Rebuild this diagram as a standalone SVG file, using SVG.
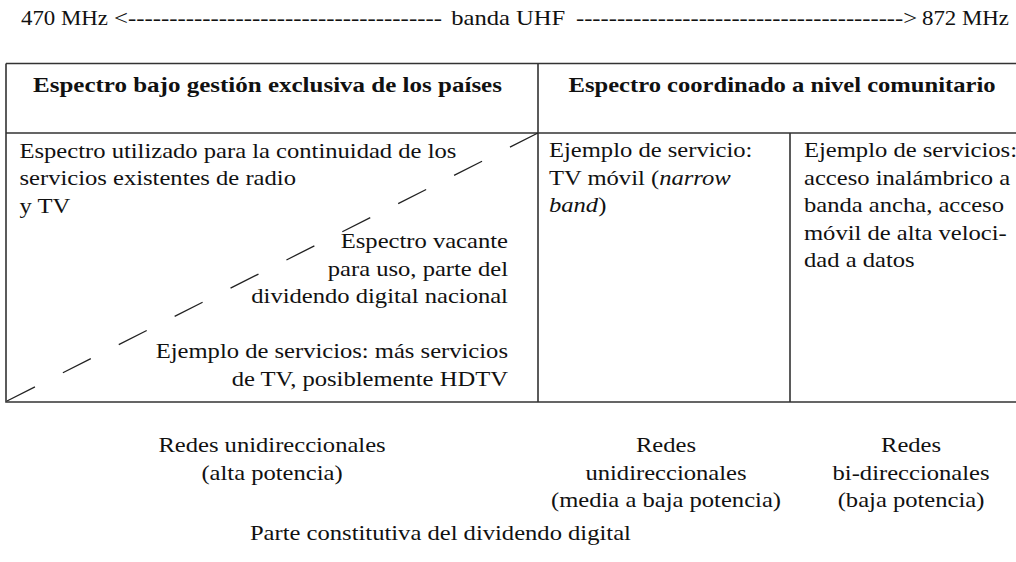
<svg xmlns="http://www.w3.org/2000/svg" width="1016" height="562" viewBox="0 0 1016 562">
  <style>
    .t { font-family: "Liberation Serif", "Times New Roman", serif; font-size: 20.5px; fill: #111; }
    .b { font-weight: bold; }
    .i { font-style: italic; }
    .m { text-anchor: middle; }
    .e { text-anchor: end; }
    .ln { stroke: #333; stroke-width: 1.6; fill: none; }
    .dash { stroke: #222; stroke-width: 1.3; fill: none; stroke-dasharray: 31.3 31.3; }
  </style>
  <rect width="1016" height="562" fill="#fff"/>
  <g id="connectors">
    <path class="ln" d="M6,63.5 H1030 M6,63.5 V402 H1030 M6,133 H1030 M538,63.5 V402 M790,133 V402"/>
    <line class="dash" x1="7" y1="401" x2="538" y2="133"/>
  </g>
  <g transform="scale(1.2,1)">
    <g id="band">
      <text class="t" x="17.5" y="25" textLength="72.5" lengthAdjust="spacingAndGlyphs">470 MHz</text>
      <text class="t" x="95" y="25" textLength="273.3" lengthAdjust="spacingAndGlyphs">&lt;--------------------------------------</text>
      <text class="t" x="376" y="25">banda UHF</text>
      <text class="t" x="480" y="25" textLength="284.2" lengthAdjust="spacingAndGlyphs">----------------------------------------&gt;</text>
      <text class="t" x="768.3" y="25" textLength="72.5" lengthAdjust="spacingAndGlyphs">872 MHz</text>
    </g>
    <g id="header-national">
      <text class="t b" x="27.5" y="92" textLength="390.8" lengthAdjust="spacingAndGlyphs">Espectro bajo gestión exclusiva de los países</text>
    </g>
    <g id="header-community">
      <text class="t b m" x="651.7" y="92">Espectro coordinado a nivel comunitario</text>
    </g>
    <g id="cell-existing">
      <text class="t" x="16.25" y="158">Espectro utilizado para la continuidad de los</text>
      <text class="t" x="16.25" y="185.5">servicios existentes de radio</text>
      <text class="t" x="16.25" y="213">y TV</text>
    </g>
    <g id="cell-vacant">
      <text class="t e" x="423.3" y="248.5">Espectro vacante</text>
      <text class="t e" x="423.3" y="276">para uso, parte del</text>
      <text class="t e" x="423.3" y="303.5">dividendo digital nacional</text>
      <text class="t e" x="423.3" y="358.5">Ejemplo de servicios: más servicios</text>
      <text class="t e" x="423.3" y="386">de TV, posiblemente HDTV</text>
    </g>
    <g id="cell-mobile-tv">
      <text class="t" x="457.5" y="157.5">Ejemplo de servicio:</text>
      <text class="t" x="457.5" y="185">TV móvil (<tspan class="i">narrow</tspan></text>
      <text class="t" x="457.5" y="212.5"><tspan class="i">band</tspan>)</text>
    </g>
    <g id="cell-broadband">
      <text class="t" x="670" y="157.5">Ejemplo de servicios:</text>
      <text class="t" x="670" y="185">acceso inalámbrico a</text>
      <text class="t" x="670" y="212.5">banda ancha, acceso</text>
      <text class="t" x="670" y="240">móvil de alta veloci-</text>
      <text class="t" x="670" y="267.5">dad a datos</text>
    </g>
    <g id="label-high-power">
      <text class="t m" x="226.7" y="452">Redes unidireccionales</text>
      <text class="t m" x="226.7" y="480">(alta potencia)</text>
    </g>
    <g id="label-medium-power">
      <text class="t m" x="555" y="452">Redes</text>
      <text class="t m" x="555" y="480">unidireccionales</text>
      <text class="t m" x="555" y="507">(media a baja potencia)</text>
    </g>
    <g id="label-low-power">
      <text class="t m" x="759.2" y="452">Redes</text>
      <text class="t m" x="759.2" y="480">bi-direccionales</text>
      <text class="t m" x="759.2" y="507">(baja potencia)</text>
    </g>
    <g id="label-dividend">
      <text class="t" x="208.3" y="540">Parte constitutiva del dividendo digital</text>
    </g>
  </g>
</svg>
